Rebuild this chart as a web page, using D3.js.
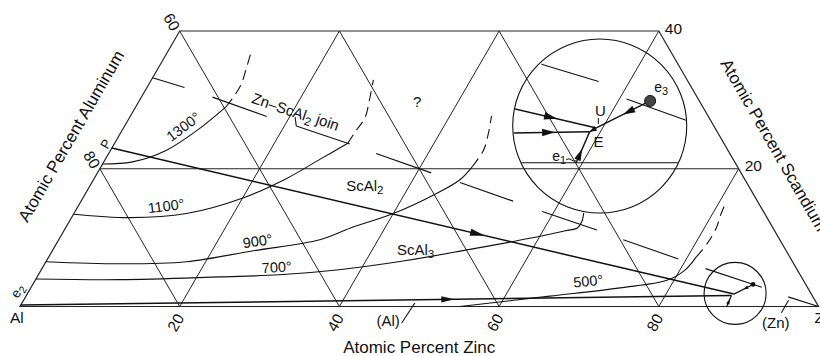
<!DOCTYPE html>
<html><head><meta charset="utf-8">
<script src="https://cdn.jsdelivr.net/npm/d3@7"></script>
<style>
body{margin:0;background:#fff}
svg{display:block}
text{font-family:"Liberation Sans",Arial,Helvetica,sans-serif;fill:#111}
</style>
</head><body>
<svg id="c" width="820" height="356"></svg>
<script>
// ---- DATA (compositions as [at.% Zn, at.% Sc]) ----
const zincTicks = [20, 40, 60, 80];
const aluminumTicks = [[80, 20], [60, 40]];      // [label, Sc where it sits on Al–Sc side]
const scandiumTicks = [[20, 80], [40, 60]];      // [label, Zn where it sits on Sc–Zn side]
const gridZn = [20, 40, 60, 80];
const gridAl = [80, 60, 40, 20];
const gridSc = [20];
const scMax = 40;

const pointP  = [0, 23];
const pointE2 = [0, 0.2];
const pointE1 = [88.5, 0];
const pointE  = [88.3, 1.6];
const pointU  = [88.5, 1.8];
const pointE3 = [90.2, 3.2];

const iso1300Solid = [[0,20.7],[3.6,21.0],[7.0,22.7],[9.6,25.9],[11.3,29.0]];
const iso1300Dash  = [[11.3,29.0],[11.6,31.9],[11.0,34.8],[10.4,37.2]];
const iso1100Solid = [[0,13.4],[7.3,12.9],[14.1,13.5],[20.1,15.8],[24.1,18.6],[26.9,21.4],[29.2,23.7]];
const iso1100Dash  = [[29.2,23.7],[29.3,25.4],[29.5,27.4],[28.7,30.2],[27.8,32.9]];
const iso900Solid  = [[0,6.5],[9.4,6.2],[17.6,6.5],[25.2,8.1],[32.7,9.7],[35.7,11.4],[40.0,13.5],[43.7,16.2],[45.9,18.4],[46.5,20.3]];
const iso900Dash   = [[46.5,20.3],[46.7,22.7],[46.1,25.1],[45.2,27.7]];
const iso700Solid  = [[0,4.0],[10.5,3.9],[22.9,4.3],[30.2,4.6],[37.0,5.3],[44.7,6.6],[52.2,8.3],[58.9,9.9],[62.8,11.0],[64.1,11.4],[64.2,12.3],[63.8,13.6]];
const iso500Solid  = [[55.1,0],[65.6,1.5],[73.8,2.7],[79.1,3.8],[80.6,5.2],[81.1,7.2]];
const iso500Dash   = [[81.1,7.2],[81.5,9.2],[81.5,11.4],[81.1,13.3],[80.9,14.6]];

const tieLines = [
  [[0,33.2],[4.7,31.8]], [[8.9,30.4],[17.1,27.6]], [[21.5,26.2],[29.5,23.6]],
  [[33.5,22.2],[41.8,19.4]], [[46.1,18.0],[54.1,15.3]], [[58.5,13.8],[66.7,11.1]],
  [[70.7,9.7],[79.0,6.9]], [[83.1,5.5],[91.5,2.8]], [[95.5,1.4],[100,0]]
];
const joinTick = [[20.7,27.5],[21.5,26.2]];
const insetTies = [[[84.4,5.1],[87.4,4.2]], [[89.1,3.3],[92.3,2.2]]];
const leaderAl = [[49.0,-2.4],[49.2,0.5]];
const leaderZn = [[95.8,-0.9],[95.8,0.9]];

const insetFocus  = [88.6, 1.9];   // centre of small circle
const insetCenter = [59.5, 26.2];  // centre of enlarged circle

const isoLabels = [
  {t:"1300°", at:[7.4,26.1], r:-37},
  {t:"1100°", at:[11.0,14.6], r:-7},
  {t:"900°",  at:[25.0,9.5], r:-8},
  {t:"700°",  at:[29.3,5.7], r:-4},
  {t:"500°",  at:[69.3,3.7], r:-5}
];
const phaseLabels = [
  {parts:[["ScAl"],["2",1]], at:[34.4,17.6], r:0},
  {parts:[["ScAl"],["3",1]], at:[45.4,8.3], r:0},
  {parts:[["Zn–ScAl"],["2",1],[" join"]], at:[20.4,28.2], r:19},
  {parts:[["?"]], at:[34.9,29.7], r:0},
  {parts:[["(Al)"]], at:[47.1,-2.0], r:0},
  {parts:[["(Zn)"]], at:[95.8,-2.3], r:0}
];

// ---- SCALES ----
const xS = d3.scaleLinear().domain([0,100]).range([20,818.5]);
const yS = d3.scaleLinear().domain([0,scMax]).range([306.5,31]);
const pt = d => [xS(d[0] + d[1]/2), yS(d[1])];

const svg = d3.select("#c");
const curve = d3.line().curve(d3.curveCatmullRom.alpha(0.5));
const straight = d3.line();

function arrowPath(a, b, t, len, hw){
  const dx=b[0]-a[0], dy=b[1]-a[1], L=Math.hypot(dx,dy), ux=dx/L, uy=dy/L;
  const tx=a[0]+dx*t, ty=a[1]+dy*t;
  return `M${tx},${ty}L${tx-len*ux+hw*uy},${ty-len*uy-hw*ux}L${tx-len*ux-hw*uy},${ty-len*uy+hw*ux}Z`;
}
function richText(sel, parts, fs){
  const t = sel.append("text").attr("font-size", fs);
  let sub=false;
  parts.forEach(p=>{
    const s=t.append("tspan").text(p[0]);
    if(p[1]){ s.attr("font-size", fs*0.78).attr("dy","0.3em"); sub=true; }
    else if(sub){ s.attr("dy","-0.3em"); sub=false; }
  });
  return t;
}

// ---- GRID ----
const g = svg.append("g").attr("fill","none").attr("stroke","#222").attr("stroke-width",1);
g.append("path").attr("d", straight([[0,0],[100,0],[100-scMax,scMax],[0,scMax]].map(pt))+"Z").attr("stroke-width",1.2);
gridZn.forEach(z => g.append("path").attr("d", straight([[z,0],[z,Math.min(scMax,100-z)]].map(pt))));
gridAl.forEach(a => { const s=100-a, top=Math.min(scMax,s); g.append("path").attr("d", straight([[s,0],[s-top,top]].map(pt))); });
gridSc.forEach(s => g.append("path").attr("d", straight([[0,s],[100-s,s]].map(pt))).attr("stroke-width",1.2));

// ---- ISOTHERMS ----
const c = svg.append("g").attr("fill","none").attr("stroke","#111").attr("stroke-width",1.1);
[iso1300Solid, iso1100Solid, iso900Solid, iso700Solid, iso500Solid].forEach(d => c.append("path").attr("d", curve(d.map(pt))));
[iso1300Dash, iso1100Dash, iso900Dash, iso500Dash].forEach(d => c.append("path").attr("d", curve(d.map(pt))).attr("stroke-dasharray","10,6"));
tieLines.concat([joinTick, leaderAl, leaderZn]).forEach(d => c.append("path").attr("d", straight(d.map(pt))));

// ---- MAIN REACTION LINES ----
const r = svg.append("g").attr("stroke","#111").attr("fill","none");
const pP=pt(pointP), pE2=pt(pointE2), pE1=pt(pointE1), pE=pt(pointE), pU=pt(pointU), pE3=pt(pointE3);
r.append("path").attr("d", straight([pP,pU])).attr("stroke-width",1.5);
r.append("path").attr("d", straight([pE2,pE])).attr("stroke-width",1.5);
r.append("path").attr("d", straight([pE1,pE])).attr("stroke-width",1.2);
r.append("path").attr("d", straight([pE3,pU])).attr("stroke-width",1.2);
const ah = svg.append("g").attr("fill","#111");
ah.append("path").attr("d", arrowPath(pP,pU,0.6,15,3.6));
ah.append("path").attr("d", arrowPath(pE2,pE,0.61,13,3.2));
ah.append("path").attr("d", arrowPath(pE1,pE,0.65,5,1.8));
ah.append("path").attr("d", arrowPath(pE3,pU,0.5,5,1.8));
svg.append("circle").attr("cx",pE3[0]).attr("cy",pE3[1]).attr("r",2.4).attr("fill","#111");

// ---- CIRCLES & INSET ----
const smallC = pt(insetFocus), bigC = pt(insetCenter);
const smallR = 31, bigR = 87, mag = bigR/smallR;
const mg = p => [bigC[0]+(p[0]-smallC[0])*mag, bigC[1]+(p[1]-smallC[1])*mag];
svg.append("circle").attr("cx",smallC[0]).attr("cy",smallC[1]).attr("r",smallR).attr("fill","none").attr("stroke","#111").attr("stroke-width",1.1);
svg.append("circle").attr("cx",bigC[0]).attr("cy",bigC[1]).attr("r",bigR).attr("fill","none").attr("stroke","#111").attr("stroke-width",1.1);
svg.append("clipPath").attr("id","inset").append("circle").attr("cx",bigC[0]).attr("cy",bigC[1]).attr("r",bigR-0.6);
const ins = svg.append("g").attr("clip-path","url(#inset)").attr("fill","none").attr("stroke","#111").attr("stroke-width",1.2);
function entry(A,B){ // entry point of segment A->B into big circle
  const dx=B[0]-A[0], dy=B[1]-A[1], fx=A[0]-bigC[0], fy=A[1]-bigC[1];
  const a=dx*dx+dy*dy, b=2*(fx*dx+fy*dy), cc=fx*fx+fy*fy-bigR*bigR;
  const t=(-b-Math.sqrt(b*b-4*a*cc))/(2*a);
  return [A[0]+dx*t, A[1]+dy*t];
}
ins.append("path").attr("d", straight([[70,0],[100,0]].map(pt).map(mg)));
insetTies.forEach(d => ins.append("path").attr("d", straight(d.map(pt).map(mg))).attr("stroke-width",1.1));
const mP=mg(pP), mE2=mg(pE2), mE1=mg(pE1), mE=mg(pE), mU=mg(pU), mE3=mg(pE3);
ins.append("path").attr("d", straight([mP,mU])).attr("stroke-width",1.5);
ins.append("path").attr("d", straight([mE2,mE])).attr("stroke-width",1.5);
ins.append("path").attr("d", straight([mE1,mE])).attr("stroke-width",1.4);
ins.append("path").attr("d", straight([mE3,mU])).attr("stroke-width",1.4);
ins.append("path").attr("d", straight([mU,mE])).attr("stroke-width",1.4);
const ia = svg.append("g").attr("fill","#111");
ia.append("path").attr("d", arrowPath(entry(mP,mU),mU,0.52,13,3.8));
ia.append("path").attr("d", arrowPath(entry(mE2,mE),mE,0.55,13,3.8));
ia.append("path").attr("d", arrowPath(mE1,mE,0.45,12,3.4));
ia.append("path").attr("d", arrowPath(mE3,mU,0.5,12,3.6));
ia.append("path").attr("d", arrowPath(mU,mE,1.0,7,2.8));
svg.append("circle").attr("cx",mE3[0]).attr("cy",mE3[1]).attr("r",5.5).attr("fill","#444").attr("stroke","#111").attr("stroke-width",1);
// inset leaders
svg.append("path").attr("d", straight([[mU[0]+2,mU[1]-10],[mU[0]+2,mU[1]-4]])).attr("stroke","#111");
svg.append("path").attr("d", `M${mE1[0]-10},${mE1[1]-3}q3,-2 5,0t5,1`).attr("stroke","#111").attr("fill","none");
// inset labels
const il = svg.append("g").attr("text-anchor","middle");
il.append("text").attr("x",mU[0]+4).attr("y",mU[1]-12).attr("font-size",15).text("U");
il.append("text").attr("x",mE[0]+9).attr("y",mE[1]+15).attr("font-size",15).text("E");
richText(il,[["e"],["1",1]],14).attr("x",mE1[0]-17).attr("y",mE1[1]-2);
richText(il,[["e"],["3",1]],14).attr("x",mE3[0]+11).attr("y",mE3[1]-9);

// ---- LABELS ----
const lab = svg.append("g").attr("text-anchor","middle");
isoLabels.forEach(d => { const p=pt(d.at);
  lab.append("text").attr("font-size",14.5).attr("dy","0.35em")
    .attr("transform",`translate(${p[0]},${p[1]}) rotate(${d.r})`).text(d.t); });
phaseLabels.forEach(d => { const p=pt(d.at);
  richText(lab,d.parts,15).attr("dy","0.35em").attr("transform",`translate(${p[0]},${p[1]}) rotate(${d.r})`); });

// point labels on left side
lab.append("text").attr("font-size",13).attr("dy","0.35em").attr("transform",`translate(${pP[0]-6},${pP[1]-4}) rotate(-60)`).text("P");
richText(lab,[["e"],["2",1]],13.5).attr("dy","0.3em").attr("transform",`translate(${pE2[0]-3},${pE2[1]-14}) rotate(-60)`);

// tick labels
const tk = svg.append("g").attr("font-size",15.5);
zincTicks.forEach(z => { const p=pt([z,0]);
  tk.append("text").attr("text-anchor","middle").attr("dy","0.35em")
    .attr("transform",`translate(${p[0]-4},${p[1]+16}) rotate(-60)`).text(z); });
aluminumTicks.forEach(([v,s]) => { const p=pt([0,s]);
  tk.append("text").attr("text-anchor","middle").attr("dy","0.35em")
    .attr("transform",`translate(${p[0]-8},${p[1]-9}) rotate(60)`).text(v); });
scandiumTicks.forEach(([v,z]) => { const q=pt([z,v]);
  tk.append("text").attr("x",q[0]+6).attr("y",q[1]+2.5).text(v); });
// corners
const pAl=pt([0,0]), pZn=pt([100,0]);
tk.append("text").attr("x",pAl[0]-10).attr("y",pAl[1]+16).text("Al");
tk.append("text").attr("x",pZn[0]-4).attr("y",pZn[1]+16).text("Zn");

// axis titles
const ti = svg.append("g").attr("font-size",17).attr("text-anchor","middle");
ti.append("text").attr("x",xS(50)).attr("y",353).text("Atomic Percent Zinc");
ti.append("text").attr("dy","0.35em").attr("transform","translate(71,136) rotate(-60)").text("Atomic Percent Aluminum");
ti.append("text").attr("dy","0.35em").attr("transform","translate(774,145) rotate(60)").text("Atomic Percent Scandium");
</script>
</body></html>
